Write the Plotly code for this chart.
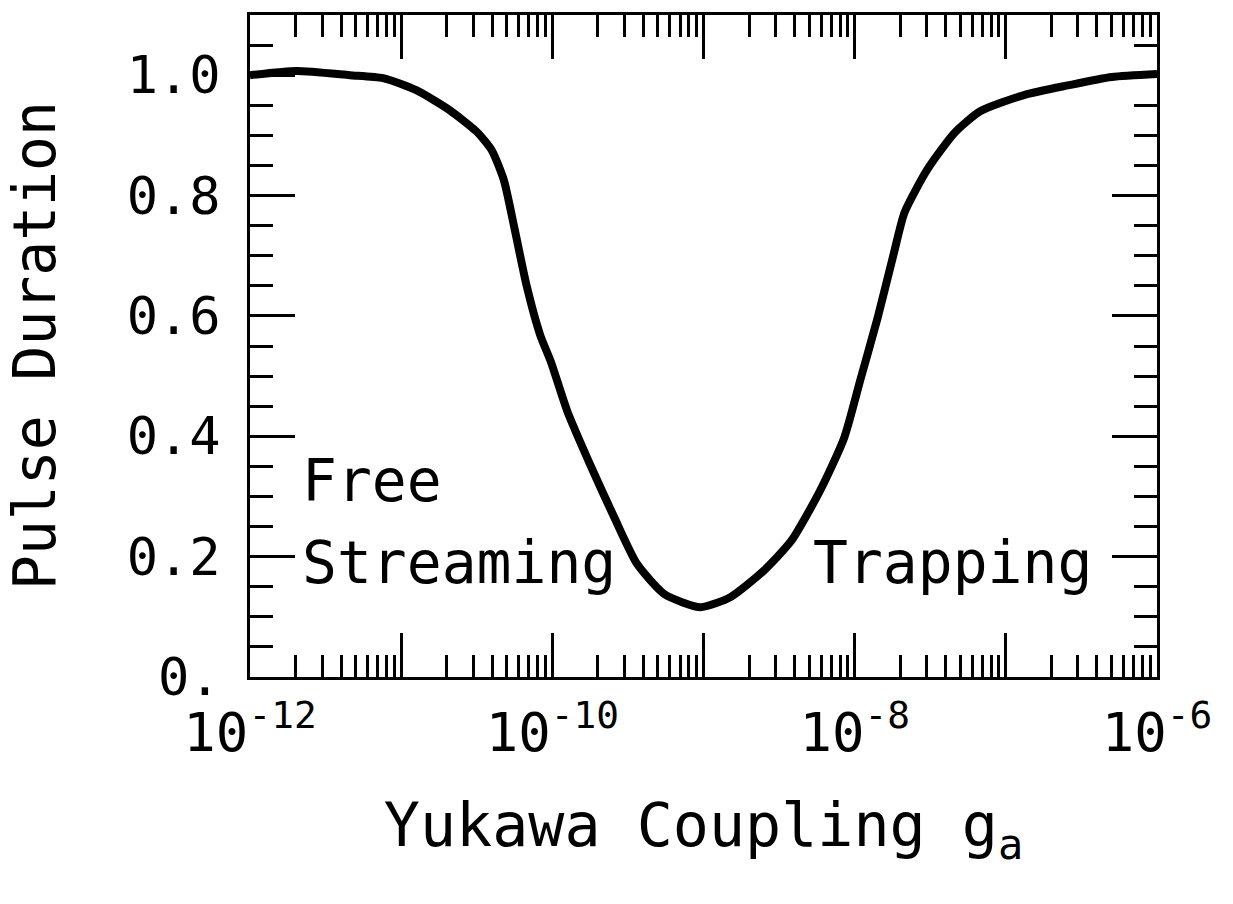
import plotly.graph_objects as go

# Data (log10 of Yukawa coupling, pulse duration)
log_g = [-12.0, -11.69, -11.34, -11.12, -10.90, -10.68, -10.50, -10.40, -10.32,
         -10.25, -10.17, -10.08, -10.01, -9.90, -9.75, -9.59, -9.44, -9.26, -9.02,
         -8.82, -8.60, -8.42, -8.23, -8.07, -7.96, -7.85, -7.74, -7.67, -7.52,
         -7.34, -7.17, -6.88, -6.59, -6.30, -6.0]
pulse = [1.0, 1.007, 1.0, 0.995, 0.975, 0.942, 0.906, 0.875, 0.825,
         0.745, 0.650, 0.568, 0.524, 0.441, 0.353, 0.265, 0.188, 0.138, 0.116,
         0.133, 0.177, 0.226, 0.309, 0.397, 0.496, 0.595, 0.705, 0.772, 0.843,
         0.904, 0.940, 0.967, 0.983, 0.997, 1.002]
g = [10 ** v for v in log_g]

x_decades = [-12, -11, -10, -9, -8, -7, -6]
x_labels = ["10<sup>-12</sup>", "", "10<sup>-10</sup>", "", "10<sup>-8</sup>", "", "10<sup>-6</sup>"]
y_ticks = [0, 0.2, 0.4, 0.6, 0.8, 1.0]
y_labels = ["0.", "0.2", "0.4", "0.6", "0.8", "1.0"]

FONT = "DejaVu Sans Mono"

x_major = [10 ** d for d in x_decades]
x_minor = [m * 10 ** d for d in x_decades[:-1] for m in range(2, 10)]

fig = go.Figure()
fig.add_trace(go.Scatter(x=g, y=pulse, mode="lines",
                         line=dict(color="black", width=8, shape="spline", smoothing=0.6),
                         showlegend=False, hoverinfo="skip"))

fig.update_xaxes(type="log", range=[-12, -6],
                 tickmode="array", tickvals=x_major, ticktext=x_labels,
                 ticks="inside", ticklen=44, tickwidth=2.5, tickcolor="black",
                 showline=True, linecolor="black", linewidth=3, mirror="allticks",
                 showgrid=False, zeroline=False,
                 tickfont=dict(family=FONT, size=54, color="black"),
                 ticklabelstandoff=6,
                 minor=dict(tickmode="array", tickvals=x_minor, ticks="inside",
                            ticklen=22, tickwidth=2.5, tickcolor="black", showgrid=False),
                 title=dict(text="Yukawa Coupling g<sub>a</sub>",
                            font=dict(family=FONT, size=60, color="black"),
                            standoff=42))

fig.update_yaxes(range=[0, 1.1],
                 tickmode="array", tickvals=y_ticks, ticktext=y_labels,
                 ticks="inside", ticklen=45, tickwidth=2.5, tickcolor="black",
                 showline=True, linecolor="black", linewidth=3, mirror="allticks",
                 showgrid=False, zeroline=False,
                 tickfont=dict(family=FONT, size=52, color="black"),
                 ticklabelstandoff=16,
                 minor=dict(dtick=0.05, ticks="inside", ticklen=23, tickwidth=2.5,
                            tickcolor="black", showgrid=False))

# y-axis title placed as a rotated annotation for precise positioning
fig.add_annotation(x=-0.237, y=0.5, xref="paper", yref="paper", text="Pulse Duration",
                   textangle=-90, showarrow=False, xanchor="center", yanchor="middle",
                   font=dict(family=FONT, size=58, color="black"))

ann_font = dict(family=FONT, size=58, color="black")
fig.add_annotation(x=-11.67, y=0.326, xref="x", yref="y", text="Free",
                   showarrow=False, xanchor="left", yanchor="middle", font=ann_font)
fig.add_annotation(x=-11.67, y=0.19, xref="x", yref="y", text="Streaming",
                   showarrow=False, xanchor="left", yanchor="middle", font=ann_font)
fig.add_annotation(x=-8.29, y=0.19, xref="x", yref="y", text="Trapping",
                   showarrow=False, xanchor="left", yanchor="middle", font=ann_font)

fig.update_layout(width=1233, height=904,
                  margin=dict(l=242, r=84, t=4, b=235),
                  paper_bgcolor="white", plot_bgcolor="white")

fig.write_html("out.html")
